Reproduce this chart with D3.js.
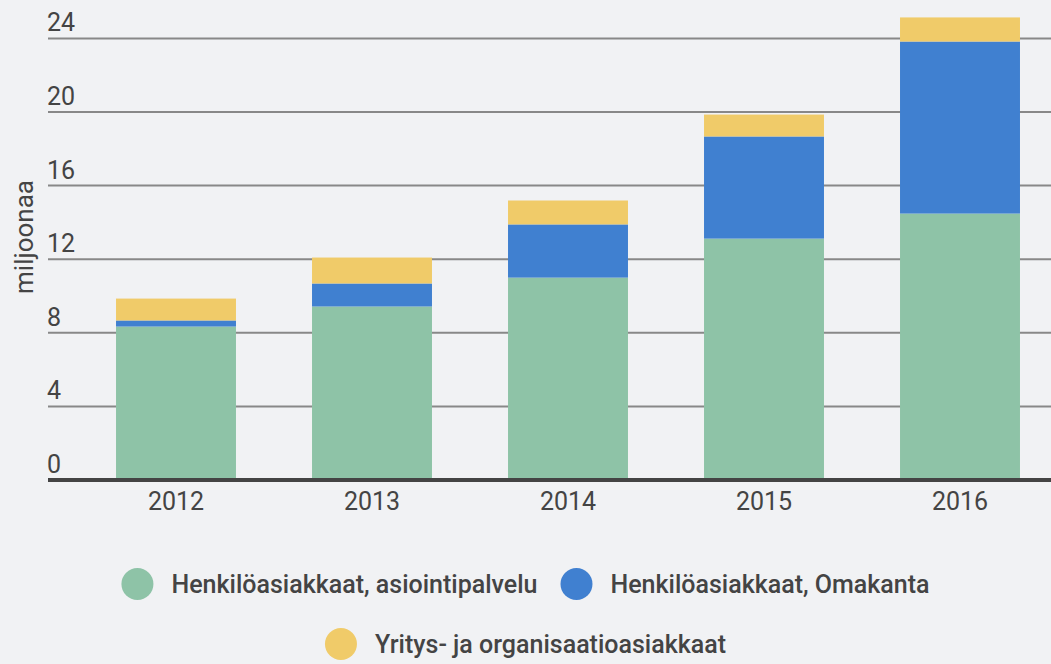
<!DOCTYPE html>
<html>
<head>
<meta charset="utf-8">
<script src="https://cdn.jsdelivr.net/npm/d3@7"></script>
<style>
  html, body { margin: 0; padding: 0; background: #f1f2f4; }
  svg { display: block; font-family: Roboto, "Noto Sans", sans-serif; }
</style>
</head>
<body>
<div id="chart"></div>
<script>
// data (miljoonaa)
var years = ["2012", "2013", "2014", "2015", "2016"];
var seriesKeys = ["asiointi", "omakanta", "yritys"];
var seriesNames = ["Henkilöasiakkaat, asiointipalvelu", "Henkilöasiakkaat, Omakanta", "Yritys- ja organisaatioasiakkaat"];
var asiointi = [8.34, 9.43, 11.0, 13.12, 14.48];
var omakanta = [0.33, 1.25, 2.89, 5.55, 9.35];
var yritys = [1.19, 1.41, 1.30, 1.19, 1.31];
var yTicks = [0, 4, 8, 12, 16, 20, 24];

var width = 1051;
var height = 664;

var color = d3.scaleOrdinal()
    .domain(seriesKeys)
    .range(["#8ec3a7", "#4080d0", "#f0cb69"]);

var rows = years.map(function (y, i) {
    return { year: y, asiointi: asiointi[i], omakanta: omakanta[i], yritys: yritys[i] };
});

var svg = d3.select("#chart")
    .append("svg")
    .attr("width", width)
    .attr("height", height);

var xScale = d3.scaleBand()
    .domain(years)
    .range([78, 1058])
    .paddingInner(0.388)
    .paddingOuter(0.194);

var yScale = d3.scaleLinear()
    .domain([0, 24])
    .range([480, 38.4]);

// gridlines
svg.append("g")
    .selectAll("line")
    .data(yTicks.filter(function (d) { return d > 0; }))
    .enter()
    .append("line")
    .attr("x1", 48)
    .attr("x2", width)
    .attr("y1", function (d) { return yScale(d); })
    .attr("y2", function (d) { return yScale(d); })
    .attr("stroke", "#888")
    .attr("stroke-width", 2);

// tick labels
svg.append("g")
    .selectAll("text")
    .data(yTicks)
    .enter()
    .append("text")
    .attr("x", 47)
    .attr("y", function (d) { return yScale(d) - 7; })
    .attr("font-size", "25px")
    .attr("fill", "#444")
    .text(function (d) { return d; });

// stacked bars
var stack = d3.stack().keys(seriesKeys);
var layers = stack(rows);

svg.append("g")
    .selectAll("g")
    .data(layers)
    .enter()
    .append("g")
    .attr("fill", function (d) { return color(d.key); })
    .selectAll("rect")
    .data(function (d) { return d; })
    .enter()
    .append("rect")
    .attr("x", function (d) { return xScale(d.data.year); })
    .attr("y", function (d) { return yScale(d[1]); })
    .attr("width", xScale.bandwidth())
    .attr("height", function (d) { return yScale(d[0]) - yScale(d[1]); });

// baseline
svg.append("line")
    .attr("x1", 48)
    .attr("x2", width)
    .attr("y1", yScale(0))
    .attr("y2", yScale(0))
    .attr("stroke", "#444")
    .attr("stroke-width", 4);

// x axis labels
var xAxis = svg.append("g")
    .attr("transform", "translate(0," + (yScale(0) + 2) + ")")
    .call(d3.axisBottom(xScale).tickSize(0).tickPadding(10));
xAxis.select(".domain").remove();
xAxis.selectAll("text")
    .attr("font-size", "25px")
    .attr("font-family", "Roboto, sans-serif")
    .attr("fill", "#444");

// y axis title
svg.append("text")
    .attr("transform", "translate(33,237) rotate(-90)")
    .attr("text-anchor", "middle")
    .attr("font-size", "26px")
    .attr("fill", "#444")
    .text("miljoonaa");

// legend, wrapped in centered rows
var legend = svg.append("g").attr("class", "legend");
var items = legend.selectAll("g")
    .data(seriesKeys)
    .enter()
    .append("g");

items.append("circle")
    .attr("cx", 16)
    .attr("cy", 0)
    .attr("r", 16)
    .attr("fill", color);

items.append("text")
    .attr("x", 50)
    .attr("y", 9)
    .attr("font-size", "25px")
    .attr("font-weight", 500)
    .attr("fill", "#444")
    .text(function (d, i) { return seriesNames[i]; });

var gap = 23;
var maxRow = 900;
var rowsLayout = [[]];
var rowW = 0;
items.each(function () {
    var w = 50 + this.querySelector("text").getComputedTextLength();
    var cur = rowsLayout[rowsLayout.length - 1];
    if (cur.length && rowW + gap + w > maxRow) {
        rowsLayout.push([]);
        rowW = 0;
        cur = rowsLayout[rowsLayout.length - 1];
    }
    cur.push({ node: this, w: w });
    rowW += (cur.length > 1 ? gap : 0) + w;
});
rowsLayout.forEach(function (row, r) {
    var total = d3.sum(row, function (d) { return d.w; }) + gap * (row.length - 1);
    var x = (width - total) / 2;
    row.forEach(function (d) {
        d3.select(d.node).attr("transform", "translate(" + x + "," + (584 + r * 60) + ")");
        x += d.w + gap;
    });
});
</script>
</body>
</html>
